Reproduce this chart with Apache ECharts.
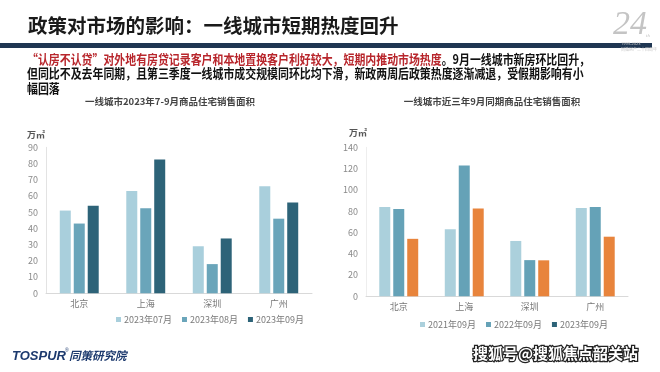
<!DOCTYPE html>
<html><head><meta charset="utf-8">
<script src="https://cdn.jsdelivr.net/npm/echarts@6/dist/echarts.min.js"></script>
<style>html,body{margin:0;padding:0;background:#fff}#c{width:660px;height:372px}</style>
</head><body><div id="c"></div>
<script>
// ---- data ----
const cities = ['北京', '上海', '深圳', '广州'];
const leftNames = ['2023年07月', '2023年08月', '2023年09月'];
const rightNames = ['2021年09月', '2022年09月', '2023年09月'];
const jul2023 = [51, 63, 29, 66];
const aug2023 = [43, 52.5, 18, 46];
const sep2023 = [54, 82.5, 33.8, 56];
const sep2021 = [84, 63, 52, 83];
const sep2022 = [82, 123, 34, 84];
const leftTitle = '一线城市2023年7-9月商品住宅销售面积';
const rightTitle = '一线城市近三年9月同期商品住宅销售面积';
const unit = '万㎡';
const mainTitle = '政策对市场的影响：一线城市短期热度回升';
const line1Red = '“认房不认贷”对外地有房贷记录客户和本地置换客户利好较大，短期内推动市场热度';
const line1Black = '。9月一线城市新房环比回升，';
const line2 = '但同比不及去年同期，且第三季度一线城市成交规模同环比均下滑，新政两周后政策热度逐渐减退，受假期影响有小';
const line3 = '幅回落';

const CJK = '"Noto Sans CJK SC", "Noto Sans", sans-serif';
function measure(t, font) {
  const ctx = document.createElement('canvas').getContext('2d');
  ctx.font = font; return ctx.measureText(t).width;
}
const pFont = 'bold 13px "Noto Sans CJK SC"';
const sx1 = 563 / measure(line1Red + line1Black, pFont);
const sx2 = 560 / measure(line2, pFont);
const sx = Math.min(sx1, sx2);

const leftColors = ['#a9cfdc', '#6aa5ba', '#2d6378'];
const rightColors = ['#abd0dc', '#65a2b7', '#e8843c'];

const chart = echarts.init(document.getElementById('c'), null, {renderer: 'canvas'});
const axisLabel = {color: '#8a8a8a', fontSize: 9, fontFamily: CJK};
function bar(name, data, xi, color) {
  return {name, type: 'bar', data, xAxisIndex: xi, yAxisIndex: xi, barWidth: 11, barGap: '27%',
    itemStyle: {color}, emphasis: {disabled: true}};
}
chart.setOption({
  animation: false,
  backgroundColor: '#fff',
  textStyle: {fontFamily: CJK},
  title: [
    {text: leftTitle, left: 165, top: 92, textAlign: 'center', textStyle: {fontSize: 9.5, fontWeight: 'bold', color: '#444', fontFamily: CJK}},
    {text: rightTitle, left: 487, top: 92, textAlign: 'center', textStyle: {fontSize: 9.5, fontWeight: 'bold', color: '#444', fontFamily: CJK}}
  ],
  legend: [
    {data: leftNames, left: 111, top: 310, itemWidth: 5, itemHeight: 5, itemGap: 10, icon: 'rect',
      textStyle: {color: '#7a7a7a', fontSize: 9, fontFamily: CJK, padding: [0, 0, 0, -2]}},
    {data: rightNames, left: 415, top: 315, itemWidth: 5, itemHeight: 5, itemGap: 10, icon: 'rect',
      textStyle: {color: '#7a7a7a', fontSize: 9, fontFamily: CJK, padding: [0, 0, 0, -2]}}
  ],
  grid: [
    {left: 46, right: 348, top: 147.3, bottom: 78.7},
    {left: 366, right: 32, top: 147.3, bottom: 75.7}
  ],
  xAxis: [0, 1].map(i => ({
    type: 'category', gridIndex: i, data: cities,
    axisLine: {lineStyle: {color: '#d9d9d9'}}, axisTick: {show: false},
    axisLabel: {color: '#777', fontSize: 9, margin: 6, fontFamily: CJK}
  })),
  yAxis: [
    {type: 'value', gridIndex: 0, min: 0, max: 90, interval: 10,
      axisLine: {show: true, lineStyle: {color: '#e3e3e3'}}, axisTick: {show: false}, splitLine: {show: false},
      axisLabel: Object.assign({margin: 8}, axisLabel)},
    {type: 'value', gridIndex: 1, min: 0, max: 140, interval: 20,
      axisLine: {show: true, lineStyle: {color: '#eeeeee'}}, axisTick: {show: false}, splitLine: {show: false},
      axisLabel: Object.assign({margin: 8}, axisLabel)}
  ],
  series: [
    bar(leftNames[0], jul2023, 0, leftColors[0]),
    bar(leftNames[1], aug2023, 0, leftColors[1]),
    bar(leftNames[2], sep2023, 0, leftColors[2]),
    bar(rightNames[0], sep2021, 1, rightColors[0]),
    bar(rightNames[1], sep2022, 1, rightColors[1]),
    bar(rightNames[2], sep2023, 1, rightColors[2])
  ],
  graphic: [
    {type: 'text', left: 28, top: 16, style: {text: mainTitle, font: 'bold 19.5px "Noto Sans CJK SC"', fill: '#1a1a1a'}},
    {type: 'rect', shape: {x: 0, y: 43, width: 652, height: 5}, style: {fill: '#1f3652'}},
    {type: 'text', x: 27, y: 52.5, scaleX: sx, style: {
      text: '{r|' + line1Red + '}{b|' + line1Black + '}',
      font: pFont,
      rich: {r: {fill: '#b8262c', font: pFont}, b: {fill: '#111', font: pFont}}
    }},
    {type: 'text', x: 27, y: 67, scaleX: sx, style: {text: line2, font: pFont, fill: '#111'}},
    {type: 'text', x: 27, y: 81.5, scaleX: sx, style: {text: line3, font: pFont, fill: '#111'}},
    {type: 'text', x: 27, y: 130, style: {text: unit, font: 'bold 9px "Noto Sans CJK SC"', fill: '#555'}},
    {type: 'text', x: 349, y: 128, style: {text: unit, font: 'bold 9px "Noto Sans CJK SC"', fill: '#555'}},
    {type: 'text', x: 613, y: 8, style: {text: '24', font: 'italic 34px "Liberation Serif"', fill: '#c4c4c4'}},
    {type: 'text', x: 646, y: 33, style: {text: 'th', font: 'italic 5px "Liberation Serif"', fill: '#c4c4c4'}},
    {type: 'text', x: 621, y: 42, style: {text: '1999-2023', font: '4px "Noto Sans"', fill: '#c8c8c8'}},
    {type: 'text', x: 621, y: 47, style: {text: '同策房产二十四周年', font: '4px "Noto Sans CJK SC"', fill: '#c8c8c8'}},
    {type: 'text', x: 12, y: 350, style: {text: 'TOSPUR', font: 'italic 900 13px "Liberation Sans"', fill: '#1d3a6e'}},
    {type: 'text', x: 65, y: 348, style: {text: '®', font: '5px "Liberation Sans"', fill: '#1d3a6e'}},
    {type: 'text', x: 69, y: 350, style: {text: '同策研究院', font: 'italic bold 11.5px "Noto Sans CJK SC"', fill: '#1d3a6e'}},
    {type: 'text', x: 473, y: 346, style: {text: '搜狐号@搜狐焦点韶关站', font: 'bold 15px "Noto Sans CJK SC"', fill: '#fff', stroke: '#222', lineWidth: 2.5}, z: 10}
  ]
});
</script></body></html>
